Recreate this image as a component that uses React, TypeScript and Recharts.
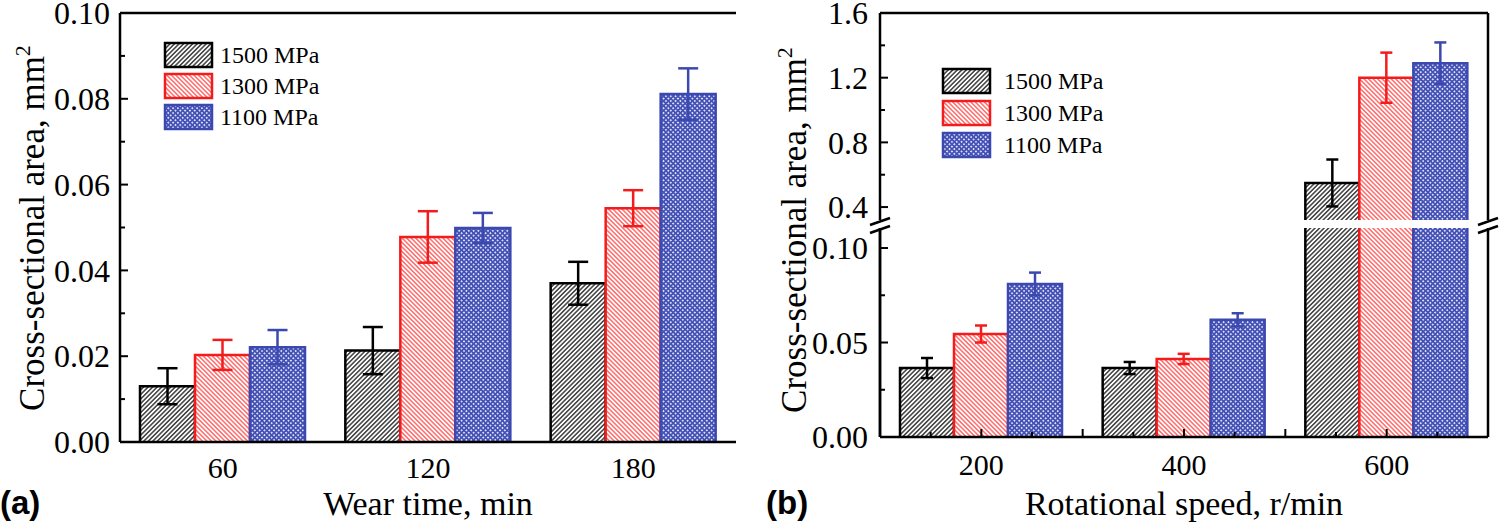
import React from "react";
import { BarChart, Bar, XAxis, YAxis, ErrorBar, ReferenceLine } from "recharts";

// ---- data (cross-sectional area of wear track, mm²) ----
const WEAR_TIMES = ["60", "120", "180"];
const SPEEDS = ["200", "400", "600"];

// panel (a): wear time
const A_1500 = [0.013, 0.0213, 0.037];
const A_1500_ERR = [0.0042, 0.0055, 0.005];
const A_1300 = [0.0203, 0.0478, 0.0545];
const A_1300_ERR = [0.0035, 0.006, 0.0042];
const A_1100 = [0.0221, 0.0499, 0.0811];
const A_1100_ERR = [0.004, 0.0035, 0.006];

// panel (b): rotational speed
const B_1500 = [0.0365, 0.0365, 0.549];
const B_1500_ERR = [0.0053, 0.0032, 0.145];
const B_1300 = [0.0545, 0.0413, 1.2];
const B_1300_ERR = [0.0045, 0.0027, 0.155];
const B_1100 = [0.081, 0.062, 1.29];
const B_1100_ERR = [0.006, 0.0035, 0.128];

// y ticks
const A_MAJOR = [0, 0.02, 0.04, 0.06, 0.08, 0.1];
const A_MINOR = [0.01, 0.03, 0.05, 0.07, 0.09];
const BU_MAJOR = [0.4, 0.8, 1.2, 1.6];
const BU_MINOR = [0.6, 1.0, 1.4];
const BL_MAJOR = [0, 0.05, 0.1];
const BL_MINOR = [0.025, 0.075];

const FONT = "Liberation Serif, serif";
const BOLD_FONT = "Liberation Sans, sans-serif";
const INK = "#000000";
const RED = "#f21c1c";
const BLUE = "#3b48b0";
const LW = 2.5;

const SERIES = [
  { id: "s1500", err: "e1500", label: "1500 MPa", stroke: INK, pattern: "hatch1500" },
  { id: "s1300", err: "e1300", label: "1300 MPa", stroke: RED, pattern: "hatch1300" },
  { id: "s1100", err: "e1100", label: "1100 MPa", stroke: BLUE, pattern: "dots1100" },
];

function buildRows(cats: string[], v15: number[], e15: number[], v13: number[], e13: number[], v11: number[], e11: number[]) {
  return cats.map((cat, i) => ({
    cat,
    s1500: v15[i], e1500: e15[i],
    s1300: v13[i], e1300: e13[i],
    s1100: v11[i], e1100: e11[i],
  }));
}

const rowsA = buildRows(WEAR_TIMES, A_1500, A_1500_ERR, A_1300, A_1300_ERR, A_1100, A_1100_ERR);
const rowsB = buildRows(SPEEDS, B_1500, B_1500_ERR, B_1300, B_1300_ERR, B_1100, B_1100_ERR);

const sortTicks = (a: number[], b: number[]) => [...a, ...b].sort((p, q) => p - q);

function Patterns({ prefix }: { prefix: string }) {
  return (
    <defs>
      <pattern id={`${prefix}-hatch1500`} width={3.2} height={3.2} patternUnits="userSpaceOnUse" patternTransform="rotate(45)">
        <rect width={3.2} height={3.2} fill="#fff" />
        <line x1={0.8} y1={0} x2={0.8} y2={3.2} stroke="#1e1e1e" strokeWidth={1.3} />
      </pattern>
      <pattern id={`${prefix}-hatch1300`} width={3.2} height={3.2} patternUnits="userSpaceOnUse" patternTransform="rotate(-45)">
        <rect width={3.2} height={3.2} fill="#fff" />
        <line x1={0.8} y1={0} x2={0.8} y2={3.2} stroke="#ff3434" strokeWidth={1.1} />
      </pattern>
      <pattern id={`${prefix}-dots1100`} width={3.4} height={3.4} patternUnits="userSpaceOnUse" patternTransform="rotate(45)">
        <rect width={3.4} height={3.4} fill="#4350b6" />
        <circle cx={1.7} cy={1.7} r={0.95} fill="#fff" />
      </pattern>
    </defs>
  );
}

// bar with outline on left, top and right only; bars below the visible
// range of a broken-axis segment are skipped
function OpenBar(props: any) {
  const { x, y, width, height, fill, stroke, background } = props;
  if (!width || !height || height < 0) return null;
  const top = y;
  const bottom = y + height;
  if (background && top >= background.y + background.height - 0.5) return null;
  return (
    <g>
      <rect x={x} y={top} width={width} height={height} fill={fill} />
      <path d={`M${x},${bottom}V${top}H${x + width}V${bottom}`} fill="none" stroke={stroke} strokeWidth={LW} />
    </g>
  );
}

function YTick(props: any) {
  const { x, y, payload, majors, digits, margin } = props;
  const axisX = x + margin;
  const major = majors.includes(payload.value);
  return (
    <g>
      <line x1={axisX} x2={axisX + (major ? 8 : 5)} y1={y} y2={y} stroke={INK} strokeWidth={2} />
      {major && (
        <text x={x} y={y} dy="0.35em" textAnchor="end" fontSize={32} fill={INK} fontFamily={FONT}>
          {payload.value.toFixed(digits)}
        </text>
      )}
    </g>
  );
}

function XTickA(props: any) {
  const { x, y, payload } = props;
  return (
    <text x={x} y={y} dy="0.71em" textAnchor="middle" fontSize={30} fill={INK} fontFamily={FONT}>
      {payload.value}
    </text>
  );
}

function XTickB(props: any) {
  const { x, y, payload, index, visibleTicksCount, width, margin } = props;
  const axisY = y - margin;
  const half = payload.offset || width / visibleTicksCount / 2;
  const marks = [
    { dx: -half / 2, len: 5 },
    { dx: 0, len: 8 },
    { dx: half / 2, len: 5 },
  ];
  if (index < visibleTicksCount - 1) marks.push({ dx: half, len: 8 });
  return (
    <g>
      {marks.map((m, i) => (
        <line key={i} x1={x + m.dx} x2={x + m.dx} y1={axisY} y2={axisY - m.len} stroke={INK} strokeWidth={2} />
      ))}
      <text x={x} y={y} dy="0.71em" textAnchor="middle" fontSize={30} fill={INK} fontFamily={FONT}>
        {payload.value}
      </text>
    </g>
  );
}

function BreakMark(props: any) {
  const { x, y } = props.viewBox || {};
  if (x == null) return null;
  return (
    <g stroke={INK} strokeWidth={LW}>
      <line x1={x - 10} y1={y - 3} x2={x + 10} y2={y - 10} />
      <line x1={x - 10} y1={y + 5} x2={x + 10} y2={y - 2} />
    </g>
  );
}

function LegendBox({ prefix, x, textX, rows }: { prefix: string; x: number; textX: number; rows: number[] }) {
  return (
    <g>
      {SERIES.map((s, i) => (
        <g key={s.id}>
          <rect x={x} y={rows[i] - 12} width={47} height={24} fill={`url(#${prefix}-${s.pattern})`} stroke={s.stroke} strokeWidth={LW} />
          <text x={textX} y={rows[i]} dy="0.35em" fontSize={24} fill={INK} fontFamily={FONT}>
            {s.label}
          </text>
        </g>
      ))}
    </g>
  );
}

function YTitle({ x, y }: { x: number; y: number }) {
  return (
    <text x={x} y={y} transform={`rotate(-90 ${x} ${y})`} textAnchor="middle" fontSize={35} fill={INK} fontFamily={FONT}>
      Cross-sectional area, mm<tspan dy={-14} fontSize={22}>2</tspan>
    </text>
  );
}

function renderBars(prefix: string, capWidth: number) {
  return SERIES.map((s) => (
    <Bar
      key={s.id}
      dataKey={s.id}
      fill={`url(#${prefix}-${s.pattern})`}
      stroke={s.stroke}
      shape={OpenBar}
      isAnimationActive={false}
    >
      <ErrorBar dataKey={s.err} width={capWidth} stroke={s.stroke} strokeWidth={LW} isAnimationActive={false} />
    </Bar>
  ));
}

const frame = { stroke: INK, strokeWidth: LW };

export default function App() {
  return (
    <div style={{ position: "absolute", left: 0, top: 0, width: 1500, height: 524, background: "#fff", fontFamily: FONT }}>
      {/* panel (a) */}
      <div style={{ position: "absolute", left: 0, top: 0 }}>
        <BarChart width={750} height={524} data={rowsA} margin={{ top: 13, right: 14, bottom: 0, left: 0 }} barGap={0} barSize={55}>
          <Patterns prefix="a" />
          {renderBars("a", 10)}
          <XAxis
            dataKey="cat"
            height={82}
            tickLine={false}
            tickSize={0}
            tickMargin={15}
            axisLine={frame}
            tick={<XTickA />}
          />
          <YAxis
            type="number"
            domain={[0, 0.1]}
            allowDataOverflow
            ticks={sortTicks(A_MAJOR, A_MINOR)}
            interval={0}
            width={120}
            tickSize={0}
            tickMargin={10}
            tickLine={false}
            axisLine={frame}
            tick={<YTick majors={A_MAJOR} digits={2} margin={10} />}
          />
          <ReferenceLine y={0.1} {...frame} />
          <ReferenceLine x="180" position="end" {...frame} />
          <LegendBox prefix="a" x={165} textX={220} rows={[55, 86, 117]} />
          <YTitle x={44} y={228} />
          <text x={428} y={515} textAnchor="middle" fontSize={34} fill={INK} fontFamily={FONT}>
            Wear time, min
          </text>
          <text x={0} y={514} fontSize={33} fontWeight="bold" fill={INK} fontFamily={BOLD_FONT}>
            (a)
          </text>
        </BarChart>
      </div>

      {/* panel (b), upper segment of the broken axis */}
      <div style={{ position: "absolute", left: 750, top: 0 }}>
        <BarChart width={750} height={240} data={rowsB} margin={{ top: 13, right: 12, bottom: 20, left: 0 }} barGap={0} barSize={54}>
          <Patterns prefix="bu" />
          {renderBars("bu", 6)}
          <XAxis dataKey="cat" hide />
          <YAxis
            type="number"
            domain={[0.32, 1.6]}
            allowDataOverflow
            ticks={sortTicks(BU_MAJOR, BU_MINOR)}
            interval={0}
            width={130}
            tickSize={0}
            tickMargin={12}
            tickLine={false}
            axisLine={frame}
            tick={<YTick majors={BU_MAJOR} digits={1} margin={12} />}
          />
          <ReferenceLine y={1.6} {...frame} />
          <ReferenceLine x="600" position="end" {...frame} />
          <LegendBox prefix="bu" x={193} textX={254} rows={[81, 113, 145]} />
        </BarChart>
      </div>

      {/* panel (b), lower segment */}
      <div style={{ position: "absolute", left: 750, top: 0 }}>
        <BarChart width={750} height={524} data={rowsB} margin={{ top: 228, right: 12, bottom: 0, left: 0 }} barGap={0} barSize={54}>
          <Patterns prefix="bl" />
          {renderBars("bl", 6)}
          <XAxis
            dataKey="cat"
            height={87}
            tickLine={false}
            tickSize={0}
            tickMargin={17}
            axisLine={frame}
            tick={<XTickB margin={17} />}
          />
          <YAxis
            type="number"
            domain={[0, 0.1106]}
            allowDataOverflow
            ticks={sortTicks(BL_MAJOR, BL_MINOR)}
            interval={0}
            width={130}
            tickSize={0}
            tickMargin={12}
            tickLine={false}
            axisLine={frame}
            tick={<YTick majors={BL_MAJOR} digits={2} margin={12} />}
          />
          <ReferenceLine x="200" position="start" {...frame} label={<BreakMark />} />
          <ReferenceLine x="600" position="end" {...frame} label={<BreakMark />} />
          <YTitle x={56} y={230} />
          <text x={434} y={515} textAnchor="middle" fontSize={34} fill={INK} fontFamily={FONT}>
            Rotational speed, r/min
          </text>
          <text x={16} y={514} fontSize={33} fontWeight="bold" fill={INK} fontFamily={BOLD_FONT}>
            (b)
          </text>
        </BarChart>
      </div>
    </div>
  );
}
